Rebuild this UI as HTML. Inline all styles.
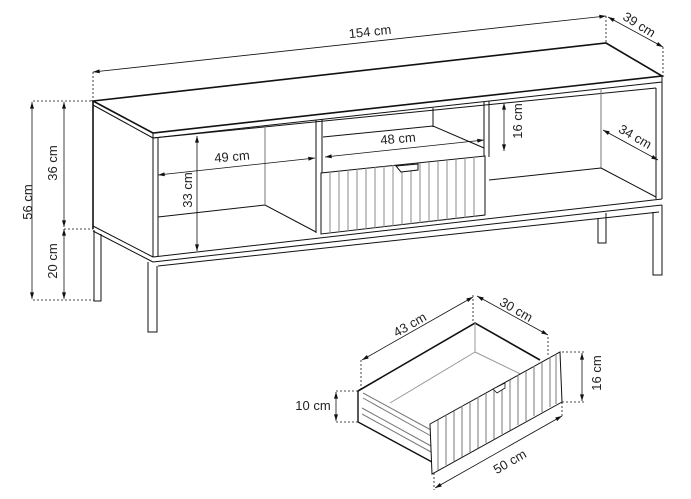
<!DOCTYPE html><html><head><style>body{margin:0;background:#fff}svg{display:block}text{font-family:"Liberation Sans",sans-serif;font-size:13px;fill:#222}</style></head><body>
<svg width="691" height="499" viewBox="0 0 691 499" xmlns="http://www.w3.org/2000/svg">
<defs><marker id="a" viewBox="0 0 10 6" refX="10" refY="3" markerWidth="9" markerHeight="5" orient="auto-start-reverse"><path d="M0,0L10,3L0,6z" fill="#111"/></marker></defs>
<g stroke="#111" fill="none" stroke-width="1">
<path d="M93,101L606,43L662,76L153,133Z" stroke-width="1.6"/>
<path d="M153,133V138L662,82V76"/>
<path d="M153,138L656,88"/>
<path d="M93,101V229" stroke-width="1.6"/>
<path d="M93,105L153,138"/>
<path d="M153,138V257M158,138V256"/>
<path d="M93,226L153,257M93,231L153,262"/>
<path d="M656,88V199M662,82V199"/>
<path d="M601,88V168" stroke="#777"/>
<path d="M601,168L656,197M489,180L601,168"/>
<path d="M153,257L662,199M153,262L662,205M158,266L659,212"/>
<path d="M158,217L265,205L316,232" />
<path d="M265,127V205" stroke="#777"/>
<path d="M316,120V233M322,119V233"/>
<path d="M484,102V157M489,101V157"/>
<path d="M433,108V127M323,137L433,126L484,148"/>
<path d="M94,230V301H101V234"/>
<path d="M148,262V332H157V266"/>
<path d="M653,212V275H662V205"/>
<path d="M598,218V243H606V213"/>
<path d="M321,173L485,156V215L321,234Z" fill="#fff"/>
</g>
<g stroke="#888" stroke-width="1">
<path d="M330,172V233M339,171V232M348,170V231M357,169V230M366,168V229M375,167V228M384,166V227M393,165V226M402,165V225M411,164V224M420,163V223M429,162V222M438,161V221M447,160V220M456,159V219M465,158V218M474,157V217"/>
</g>
<path d="M396,166L418,164L418,170L401,172Z" fill="#fff" stroke="#111"/>
<g stroke="#111" stroke-width="0.8" fill="none">
<path d="M93,72L606,16" marker-start="url(#a)" marker-end="url(#a)"/>
<path d="M608,17L663,47" marker-start="url(#a)" marker-end="url(#a)"/>
<path d="M32,102V299" marker-start="url(#a)" marker-end="url(#a)"/>
<path d="M64,102V227" marker-start="url(#a)" marker-end="url(#a)"/>
<path d="M64,229V299" marker-start="url(#a)" marker-end="url(#a)"/>
<path d="M197,136V251" marker-start="url(#a)" marker-end="url(#a)"/>
<path d="M158,175L315,158" marker-start="url(#a)" marker-end="url(#a)"/>
<path d="M325,157L484,140" marker-start="url(#a)" marker-end="url(#a)"/>
<path d="M504,103V151" marker-start="url(#a)" marker-end="url(#a)"/>
<path d="M603,130L658,160" marker-start="url(#a)" marker-end="url(#a)"/>
<path d="M362,360L473,297" marker-start="url(#a)" marker-end="url(#a)"/>
<path d="M477,296L548,335" marker-start="url(#a)" marker-end="url(#a)"/>
<path d="M582,353V401" marker-start="url(#a)" marker-end="url(#a)"/>
<path d="M336,392V421" marker-start="url(#a)" marker-end="url(#a)"/>
<path d="M435,488L562,416" marker-start="url(#a)" marker-end="url(#a)"/>
</g>
<g stroke="#111" stroke-width="0.8" stroke-dasharray="2,2" fill="none">
<path d="M93,72V100M606,16V43M663,47V76M33,101H93M33,300H94M64,229H93"/>
<path d="M361,360V390M473,295V323M548,337V355M562,352H584M562,402H584M336,391H358M336,422H358M434,473V490M562,402V416"/>
</g>
<g stroke="#111" fill="none">
<path d="M358,391L475,323L540,360" stroke-width="1.6"/>
<path d="M358,391V422L432,462" stroke-width="1.4"/>
<path d="M363,393L431,430M363,398L431,436M362,408L431,446M362,414L431,452" stroke="#777"/>
<path d="M475,323V352L390,403M475,352L533,380" stroke="#999"/>
<path d="M430,424L560,352L562,402L432,474Z" fill="#fff"/>
</g>
<g stroke="#777" stroke-width="1"><path d="M438,420V470M446,415V465M454,411V461M462,406V457M470,402V452M478,397V448M486,393V443M494,388V439M502,384V434M510,380V430M518,375V425M526,371V421M534,366V416M542,362V412M550,357V407M556,354V404"/></g>
<path d="M493,389L505,383L505,388L497,393Z" fill="#fff" stroke="#111" stroke-width="0.8"/>
<text x="370" y="36" text-anchor="middle" transform="rotate(-6 370 32)">154 cm</text>
<text x="639" y="29" text-anchor="middle" transform="rotate(32 639 25)">39 cm</text>
<text x="28" y="206" text-anchor="middle" transform="rotate(-90 28 202)">56 cm</text>
<text x="57" y="171" text-anchor="middle" transform="rotate(-90 53 167)">36 cm</text>
<text x="57" y="269" text-anchor="middle" transform="rotate(-90 53 265)">20 cm</text>
<text x="192" y="198" text-anchor="middle" transform="rotate(-90 188 194)">33 cm</text>
<text x="232" y="161" text-anchor="middle" transform="rotate(-5 232 157)">49 cm</text>
<text x="398" y="143" text-anchor="middle" transform="rotate(-5 398 139)">48 cm</text>
<text x="522" y="129" text-anchor="middle" transform="rotate(-90 518 125)">16 cm</text>
<text x="635" y="141" text-anchor="middle" transform="rotate(30 635 137)">34 cm</text>
<text x="410" y="329" text-anchor="middle" transform="rotate(-30 410 325)">43 cm</text>
<text x="516" y="314" text-anchor="middle" transform="rotate(30 516 310)">30 cm</text>
<text x="601" y="381" text-anchor="middle" transform="rotate(-90 597 377)">16 cm</text>
<text x="313" y="410" text-anchor="middle">10 cm</text>
<text x="510" y="466" text-anchor="middle" transform="rotate(-30 510 462)">50 cm</text>
</svg></body></html>
